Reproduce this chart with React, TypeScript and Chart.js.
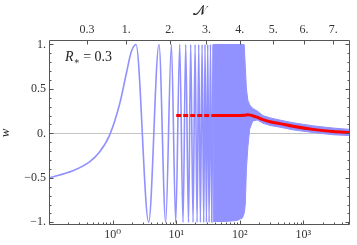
import React, { useEffect, useRef } from 'react';
import { Chart, registerables } from 'chart.js';

Chart.register(...registerables);

// Blue curve: start-up part, then peaks / troughs
const oscX = [0.1, 0.237, 0.434, 0.624, 0.897, 1.29, 1.64, 1.97, 2.33, 3.69, 5.36, 6.83, 8.4, 9.82, 11.35, 12.8, 14.1, 15.6, 16.9, 18.4, 19.8, 21.3, 22.6, 24.0, 25.5, 27.1, 28.4, 29.9, 31.3, 32.9, 34.6, 36.2, 38.0];
const oscY = [-0.5, -0.42, -0.32, -0.21, -0.02, 0.33, 0.67, 0.92, 1, -1, 1, -1, 1, -1, 1, -1, 1, -1, 1, -1, 1, -1, 1, -1, 1, -1, 1, -1, 1, -1, 1, -1, 1];

// Dense (unresolved) oscillation band: upper / lower envelope
const bandX = [38, 60, 90, 110, 117, 122, 127, 134, 143, 160, 190, 230, 297, 426, 683, 1412, 2915, 5400];
const bandUpper = [1, 1, 1, 1, 1, 0.75, 0.5, 0.37, 0.32, 0.28, 0.25, 0.2, 0.175, 0.15, 0.12, 0.085, 0.06, 0.045];
const bandLower = [-0.99, -0.99, -0.98, -0.95, -0.9, -0.8, -0.4, -0.15, 0.05, 0.14, 0.15, 0.115, 0.09, 0.07, 0.04, 0.01, -0.015, -0.025];

// Red averaged curve
const redX = [10, 36, 80, 120, 134, 180, 230, 297, 426, 683, 1412, 2915, 5400];
const redY = [0.2, 0.2, 0.2, 0.205, 0.21, 0.185, 0.155, 0.13, 0.11, 0.08, 0.045, 0.02, 0.008];

// Axis ticks
const xTickValues = [1, 10, 100, 1000];
const xTickLabels = ['10\u2070', '10\u00b9', '10\u00b2', '10\u00b3'];
const nTickValues = [0.394, 1.64, 7.9, 29.9, 100, 335, 1025, 2940];
const nTickLabels = ['0.3', '1.', '2.', '3.', '4.', '5.', '6.', '7.'];
const yTickValues = [-1, -0.5, 0, 0.5, 1];
const yTickLabels = ['\u22121.', '\u22120.5', '0.', '0.5', '1.'];

const BLUE = 'rgb(145,145,255)';
const FONT = "'Liberation Serif', 'DejaVu Serif', serif";
const TXT = '#333';

const toPts = (xs: number[], ys: number[]) => xs.map((x, i) => ({ x, y: ys[i] }));

const framePlugin = {
  id: 'frameTicks',
  afterDraw(chart: any) {
    const { ctx, chartArea: a, scales } = chart;
    ctx.save();
    ctx.strokeStyle = '#555';
    ctx.lineWidth = 1;
    ctx.beginPath();
    const L = Math.round(a.left) + 0.5, R = Math.round(a.right) - 0.5;
    const T = Math.round(a.top) + 0.5, B = Math.round(a.bottom) - 0.5;
    ctx.rect(L, T, R - L, B - T);
    // y ticks, both sides
    for (let i = -10; i <= 10; i++) {
      const p = Math.round(scales.y.getPixelForValue(i / 10)) + 0.5;
      const len = i % 5 === 0 ? 4 : 2;
      ctx.moveTo(L, p); ctx.lineTo(L + len, p);
      ctx.moveTo(R, p); ctx.lineTo(R - len, p);
    }
    // bottom log ticks
    for (const d of [0.1, 1, 10, 100, 1000]) {
      for (let k = 1; k <= 9; k++) {
        const v = d * k;
        if (v < 0.1 || v > 5400) continue;
        const p = Math.round(scales.x.getPixelForValue(v)) + 0.5;
        const len = k === 1 ? 4 : 2;
        ctx.moveTo(p, B); ctx.lineTo(p, B - len);
      }
    }
    // top N ticks
    for (const v of nTickValues) {
      const p = Math.round(scales.x2.getPixelForValue(v)) + 0.5;
      ctx.moveTo(p, T); ctx.lineTo(p, T + 4);
    }
    ctx.stroke();

    ctx.fillStyle = '#222';
    // y title
    ctx.save();
    ctx.translate(9, 133);
    ctx.rotate(-Math.PI / 2);
    ctx.font = `italic 13px ${FONT}`;
    ctx.textAlign = 'center';
    ctx.textBaseline = 'alphabetic';
    ctx.fillText('w', 0, 0);
    ctx.restore();
    // top title
    ctx.font = `14px ${FONT}`;
    ctx.textAlign = 'center';
    ctx.textBaseline = 'alphabetic';
    ctx.fillText('\ud835\udca9', (a.left + a.right) / 2, 15);
    // R* label
    ctx.textAlign = 'left';
    let x = a.left + 16;
    const yb = a.top + 21;
    ctx.font = `italic 14px ${FONT}`;
    ctx.fillText('R', x, yb);
    x += ctx.measureText('R').width;
    ctx.font = `9px ${FONT}`;
    ctx.fillText('\u2217', x, yb + 3);
    x += ctx.measureText('\u2217').width;
    ctx.font = `14px ${FONT}`;
    ctx.fillText(' = 0.3', x, yb);
    ctx.restore();
  },
};

export default function App() {
  const ref = useRef<HTMLCanvasElement>(null);
  useEffect(() => {
    if (!ref.current) return;
    const tickFont = { family: FONT, size: 12 };
    const chart = new Chart(ref.current, {
      type: 'line',
      data: {
        datasets: [
          {
            data: toPts(redX, redY),
            borderColor: '#ff0000',
            borderWidth: 3,
            pointRadius: 0,
            cubicInterpolationMode: 'monotone',
            borderCapStyle: 'butt',
            segment: {
              borderDash: (c: any) => (c.p1.parsed.x <= 36 ? [5, 2] : undefined),
            },
          } as any,
          {
            data: toPts(oscX, oscY),
            borderColor: BLUE,
            borderWidth: 1.6,
            pointRadius: 0,
            cubicInterpolationMode: 'monotone',
            fill: false,
          },
          {
            data: toPts(bandX, bandUpper),
            borderColor: BLUE,
            borderWidth: 1,
            pointRadius: 0,
            tension: 0,
            fill: false,
          },
          {
            data: toPts(bandX, bandLower),
            borderColor: BLUE,
            backgroundColor: BLUE,
            borderWidth: 1,
            pointRadius: 0,
            tension: 0,
            fill: '-1',
          },
        ],
      },
      options: {
        animation: false,
        responsive: true,
        maintainAspectRatio: false,
        layout: { padding: { left: 0, right: 7, top: 0, bottom: 0 } },
        plugins: { legend: { display: false }, tooltip: { enabled: false } },
        scales: {
          x: {
            type: 'logarithmic',
            position: 'bottom',
            min: 0.1,
            max: 5400,
            grid: { display: false, drawTicks: false },
            border: { display: false },
            ticks: {
              autoSkip: false,
              maxRotation: 0,
              padding: 3,
              font: tickFont,
              color: TXT,
              callback: (_v: any, i: number) => xTickLabels[i],
            },
            afterBuildTicks: (s: any) => { s.ticks = xTickValues.map((v) => ({ value: v })); },
            afterFit: (s: any) => { s.height = 20; },
          },
          x2: {
            type: 'logarithmic',
            position: 'top',
            min: 0.1,
            max: 5400,
            grid: { display: false, drawTicks: false },
            border: { display: false },
            ticks: {
              autoSkip: false,
              maxRotation: 0,
              padding: 3,
              font: tickFont,
              color: TXT,
              callback: (_v: any, i: number) => nTickLabels[i],
            },
            afterBuildTicks: (s: any) => { s.ticks = nTickValues.map((v) => ({ value: v })); },
            afterFit: (s: any) => { s.height = 40; },
          },
          y: {
            type: 'linear',
            position: 'left',
            min: -1.03,
            max: 1.05,
            grid: {
              drawTicks: false,
              color: (c: any) => (c.tick && c.tick.value === 0 ? '#c4c4c4' : 'rgba(0,0,0,0)'),
            },
            border: { display: false },
            ticks: {
              autoSkip: false,
              padding: 3,
              font: tickFont,
              color: TXT,
              callback: (_v: any, i: number) => yTickLabels[i],
            },
            afterBuildTicks: (s: any) => { s.ticks = yTickValues.map((v) => ({ value: v })); },
            afterFit: (s: any) => { s.width = 49; },
          },
        },
      } as any,
      plugins: [framePlugin],
    });
    return () => chart.destroy();
  }, []);
  return (
    <div style={{ position: 'absolute', left: 0, top: 0, width: 357, height: 245 }}>
      <canvas ref={ref} />
    </div>
  );
}
